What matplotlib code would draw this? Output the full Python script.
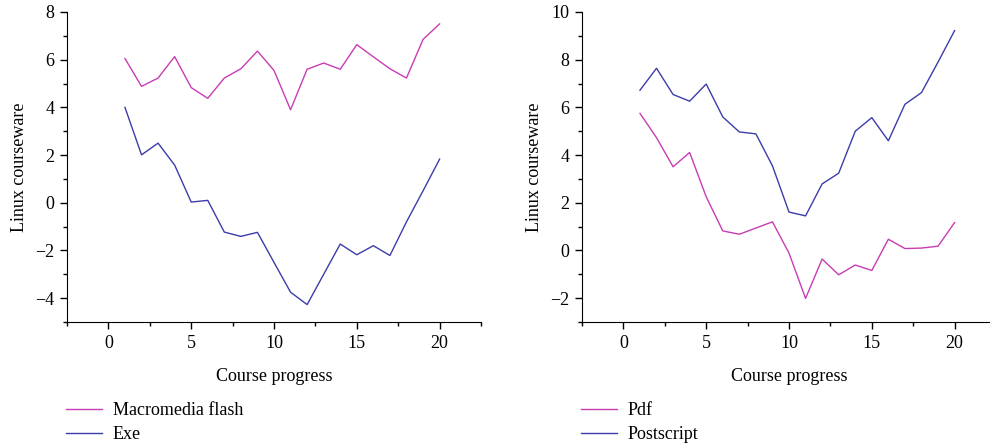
import matplotlib
matplotlib.use("Agg")
import matplotlib.pyplot as plt
from matplotlib.ticker import MultipleLocator

x = list(range(1, 21))
flash = [6.05, 4.88, 5.23, 6.13, 4.83, 4.38, 5.23, 5.62, 6.36, 5.55,
         3.90, 5.60, 5.86, 5.60, 6.63, 6.12, 5.62, 5.23, 6.85, 7.50]
exe = [4.00, 2.01, 2.50, 1.58, 0.03, 0.10, -1.23, -1.41, -1.24, -2.50,
       -3.75, -4.27, -3.00, -1.73, -2.18, -1.80, -2.21, -0.80, 0.50, 1.83]
pdf = [5.75, 4.73, 3.51, 4.11, 2.25, 0.82, 0.68, 0.94, 1.20, -0.11,
       -2.01, -0.36, -1.02, -0.61, -0.84, 0.47, 0.08, 0.10, 0.18, 1.17]
postscript = [6.72, 7.64, 6.54, 6.26, 6.98, 5.60, 4.97, 4.89, 3.55, 1.61,
              1.45, 2.79, 3.24, 5.00, 5.57, 4.60, 6.13, 6.62, 7.90, 9.22]

MAG = "#C83CB4"
BLU = "#3C3CAA"

plt.rcParams['font.family'] = ['Liberation Serif', 'DejaVu Serif']
FS = 13
plt.rcParams['font.size'] = FS

fig = plt.figure(figsize=(9.9, 4.45), dpi=100)

def style(ax, ylim, ymaj):
    ax.set_xlim(-2.5, 22.5)
    ax.set_ylim(*ylim)
    ax.spines['top'].set_visible(False)
    ax.spines['right'].set_visible(False)
    ax.xaxis.set_major_locator(MultipleLocator(5))
    ax.xaxis.set_minor_locator(MultipleLocator(2.5))
    ax.yaxis.set_major_locator(MultipleLocator(ymaj))
    ax.yaxis.set_minor_locator(MultipleLocator(1))
    ax.tick_params(which='major', direction='out', length=5, width=1, labelsize=FS, pad=4)
    ax.tick_params(which='minor', direction='out', length=3, width=1)
    ax.set_xlabel("Course progress", fontsize=FS, labelpad=12)
    ax.set_ylabel("Linux courseware", fontsize=FS, labelpad=5)
    ax.patch.set_alpha(0)

ax1 = fig.add_axes([67/990, 1-322/445, 414/990, 310/445])
l1, = ax1.plot(x, flash, color=MAG, lw=1, label="Macromedia flash")
l2, = ax1.plot(x, exe, color=BLU, lw=1, label="Exe")
style(ax1, (-5, 8), 2)
fig.legend(handles=[l1, l2], loc='upper left', bbox_to_anchor=(66/990, 1-402/445),
           frameon=False, borderaxespad=0, borderpad=0, handlelength=2.0, handletextpad=0.6,
           labelspacing=0.38, fontsize=FS)

ax2 = fig.add_axes([582/990, 1-322/445, 414/990, 310/445])
l3, = ax2.plot(x, pdf, color=MAG, lw=1, label="Pdf")
l4, = ax2.plot(x, postscript, color=BLU, lw=1, label="Postscript")
style(ax2, (-3, 10), 2)
fig.legend(handles=[l3, l4], loc='upper left', bbox_to_anchor=(581/990, 1-402/445),
           frameon=False, borderaxespad=0, borderpad=0, handlelength=2.0, handletextpad=0.6,
           labelspacing=0.38, fontsize=FS)

fig.savefig("out.png", dpi=100)
